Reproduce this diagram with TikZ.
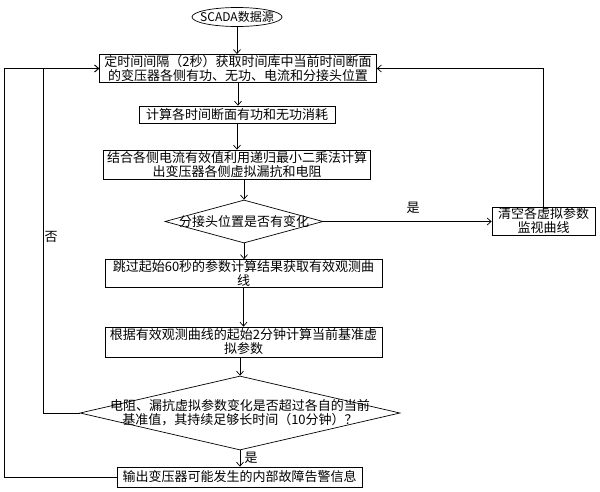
\documentclass[tikz,border=0pt]{standalone}
\usepackage{fontspec}
\setmainfont{Noto Sans CJK SC}
\usetikzlibrary{shapes.geometric,arrows.meta}

\begin{document}
\begin{tikzpicture}[x=1pt,y=-1pt,
  every node/.style={font=\fontsize{13}{14}\selectfont,align=center},
  term/.style={draw,ellipse,inner sep=0pt,line width=0.7pt},
  proc/.style={draw,rectangle,inner sep=1pt,line width=0.7pt},
  decide/.style={draw,diamond,inner sep=0pt,line width=0.7pt},
  arr/.style={-{Straight Barb[length=4pt,width=7pt]},line width=0.7pt}]
\useasboundingbox (0,0) rectangle (600,491);
\node[term,minimum width=90pt,minimum height=19pt] (src) at (237,17) {};
\node[font=\fontsize{12}{14}\selectfont] (srctext) at (src) {SCADA数据源};
\node[proc,minimum width=277pt,minimum height=27pt] (b1) at (238,68.5) {定时间间隔（2秒）获取时间库中当前时间断面\\的变压器各侧有功、无功、电流和分接头位置};
\node[proc,minimum width=196pt,minimum height=17pt] (b2) at (237,114.5) {计算各时间断面有功和无功消耗};
\node[proc,minimum width=267pt,minimum height=29pt] (b3) at (237,164.5) {结合各侧电流有效值利用递归最小二乘法计算\\出变压器各侧虚拟漏抗和电阻};
\node[decide,minimum width=158pt,minimum height=43pt] (d1) at (244,221.5) {};
\node (d1text) at (d1) {分接头位置是否有变化};
\node[proc,minimum width=103pt,minimum height=27pt] (clr) at (543.5,221) {清空各虚拟参数\\监视曲线};
\node[proc,minimum width=277pt,minimum height=27pt] (b4) at (243.5,273.5) {跳过起始60秒的参数计算结果获取有效观测曲\\线};
\node[proc,minimum width=277pt,minimum height=30pt] (b5) at (243.5,342) {根据有效观测曲线的起始2分钟计算当前基准虚\\拟参数};
\node[decide,minimum width=320pt,minimum height=74pt] (d2) at (240,413) {};
\node (d2text) at (d2) {电阻、漏抗虚拟参数变化是否超过各自的当前\\基准值，其持续足够长时间（10分钟）？};
\node[proc,minimum width=245pt,minimum height=20pt] (b6) at (239.5,477) {输出变压器可能发生的内部故障告警信息};
\node (yes1) at (413,208) {是};
\node (yes2) at (251,458) {是};
\node (no) at (51,237) {否};
% left return lines
\coordinate (lout) at (4,476);
\coordinate (lin) at (43,413);
\draw[arr] (src.south) -- (src.south |- b1.north);
\draw[arr] (b1.south) -- (b1.south |- b2.north);
\draw[arr] (b2.south) -- (b2.south |- b3.north);
\draw[arr] (d1.north |- b3.south) -- (d1.north);
\draw[arr] (d1.south) -- (d1.south |- b4.north);
\draw[arr] (b4.south) -- (b4.south |- b5.north);
\draw[arr] (d2.north |- b5.south) -- (d2.north);
\draw[arr] (d2.south) -- (d2.south |- b6.north);
\draw[arr] (d1.east) -- (d1.east -| clr.west);
\draw[arr] (clr.north) |- (b1.east);
\draw[arr] (b6.west) -- (b6.west -| lout) |- (b1.west);
\draw[arr] (d2.west) -- (d2.west -| lin) |- (b1.west);
\end{tikzpicture}
\end{document}
